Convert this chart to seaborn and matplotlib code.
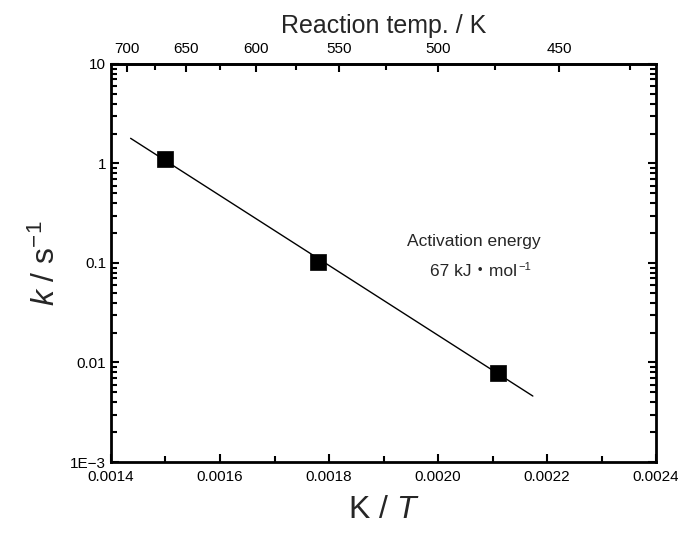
import numpy as np
import pandas as pd
import matplotlib
matplotlib.use("Agg")
import matplotlib.pyplot as plt
import seaborn as sns
from matplotlib.ticker import FixedLocator, LogLocator, NullFormatter, FixedFormatter, MultipleLocator
from matplotlib.transforms import offset_copy

# data
inv_T = [0.0015, 0.00178, 0.00211]
k_vals = [1.11, 0.103, 0.0078]
fit_x = [0.001436, 0.002174]
fit_y = [1.79, 0.0046]
x_ticks = [0.0014, 0.0016, 0.0018, 0.0020, 0.0022, 0.0024]
x_ticklabels = ["0.0014", "0.0016", "0.0018", "0.0020", "0.0022", "0.0024"]
y_ticks = [0.001, 0.01, 0.1, 1, 10]
y_ticklabels = ["1E\u22123", "0.01", "0.1", "1", "10"]
top_major = [700, 650, 600, 550, 500, 450]
top_minor = [675, 625, 575, 525, 475, 425]

sns.set_style("ticks")
plt.rcParams['font.family'] = ['Liberation Sans', 'Noto Sans CJK JP', 'DejaVu Sans']
plt.rcParams['mathtext.fontset'] = 'custom'
plt.rcParams['mathtext.rm'] = 'Liberation Sans'
plt.rcParams['mathtext.it'] = 'Liberation Sans:italic'

fig = plt.figure(figsize=(6.78, 5.33), dpi=100)
ax = fig.add_axes([0.1637, 0.1332, 0.8039, 0.7468])

pts = pd.DataFrame({"x": inv_T, "k": k_vals})
fit = pd.DataFrame({"x": fit_x, "k": fit_y})
sns.lineplot(data=fit, x="x", y="k", ax=ax, color="black", linewidth=1.0)
sns.scatterplot(data=pts, x="x", y="k", ax=ax, marker="s", s=120, color="black",
                edgecolor="black", linewidth=0.5, zorder=3)

ax.set_yscale("log")
ax.set_xlim(0.0014, 0.0024)
ax.set_ylim(0.001, 10)

ax.xaxis.set_major_locator(FixedLocator(x_ticks))
ax.xaxis.set_major_formatter(FixedFormatter(x_ticklabels))
ax.xaxis.set_minor_locator(MultipleLocator(0.0001))
ax.yaxis.set_major_locator(FixedLocator(y_ticks))
ax.yaxis.set_major_formatter(FixedFormatter(y_ticklabels))
ax.yaxis.set_minor_locator(LogLocator(base=10, subs=np.arange(2, 10)))
ax.yaxis.set_minor_formatter(NullFormatter())

for s in ax.spines.values():
    s.set_linewidth(2.0)
    s.set_color("black")
    s.set_visible(True)

ax.tick_params(axis="both", which="both", direction="in", colors="black",
               labelsize=11, width=1.5)
ax.tick_params(axis="both", which="major", length=6)
ax.tick_params(axis="both", which="minor", length=4)
ax.tick_params(axis="x", which="both", top=False, bottom=True)
ax.tick_params(axis="y", which="both", left=True, right=True)
ax.tick_params(axis="x", pad=6)

def fwd(x):
    x = np.asarray(x, dtype=float)
    with np.errstate(divide="ignore", invalid="ignore"):
        return np.where(x == 0, np.inf, 1.0 / np.where(x == 0, 1, x))

sec = ax.secondary_xaxis("top", functions=(fwd, fwd))
sec.xaxis.set_major_locator(FixedLocator(top_major))
sec.xaxis.set_minor_locator(FixedLocator(top_minor))
sec.tick_params(axis="x", which="both", direction="in", labelsize=11, width=1.5,
                colors="black", pad=6)
sec.tick_params(axis="x", which="major", length=6)
sec.tick_params(axis="x", which="minor", length=4)
sec.spines["top"].set_linewidth(2.0)
sec.set_xlabel("Reaction temp. / K", fontsize=18, labelpad=6)

ax.set_xlabel("K / $T$", fontsize=23, labelpad=8)
ax.set_ylabel("$k$ / s$^{-1}$", fontsize=23, labelpad=6)

ax.text(0.002065, 0.163, "Activation energy", ha="center", va="center", fontsize=12.5)
t2 = ax.text(0.002065, 0.083, "67 kJ\u30fbmol", ha="center", va="center", fontsize=12.5)
fig.canvas.draw()
bb = t2.get_window_extent()
inv = ax.transData.inverted()
xr, yt = inv.transform((bb.x1 + 1, bb.y1 - 3))
ax.text(xr, yt, "\u22121", ha="left", va="center", fontsize=8)

fig.savefig("out.png", dpi=100)
